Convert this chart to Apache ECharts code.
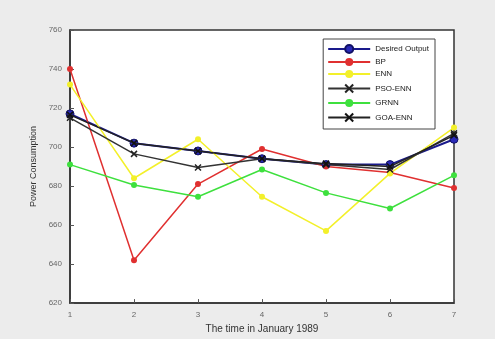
<!DOCTYPE html>
<html>
<head>
<meta charset="utf-8">
<script src="https://cdn.jsdelivr.net/npm/echarts@6/dist/echarts.min.js"></script>
<style>
  html, body { margin: 0; padding: 0; background: #ececec; }
  #main { width: 495px; height: 339px; }
</style>
</head>
<body>
<div id="main"></div>
<script>
// days in January 1989
var days = [1, 2, 3, 4, 5, 6, 7];
var desired = [717, 702, 698, 694, 691, 691, 704];
var bp = [740, 642, 681, 699, 690, 687, 679];
var enn = [732, 684, 704, 674.5, 657, 686.5, 710];
var psoEnn = [715, 696.5, 689.5, 694, 691, 688.5, 707];
var grnn = [691, 680.5, 674.5, 688.5, 676.5, 668.5, 685.5];
var goaEnn = [716.5, 702, 698, 694, 691.5, 690, 706];

function pts(vals) {
    return days.map(function (d, i) { return [d, vals[i]]; });
}

var chart = echarts.init(document.getElementById('main'));

var axisCommon = {
    axisLine: { show: true, lineStyle: { color: '#333', width: 1.5 } },
    axisTick: { show: true, inside: true, length: 4, lineStyle: { color: '#555' } },
    axisLabel: { color: '#666', fontSize: 8, fontFamily: 'Liberation Sans' },
    splitLine: { show: false }
};

chart.setOption({
    backgroundColor: '#ececec',
    animation: false,
    grid: { left: 70, right: 41, top: 30, bottom: 35, show: true, backgroundColor: '#fff', borderColor: '#333', borderWidth: 1.5 },
    legend: {
        orient: 'vertical',
        right: 60, top: 39,
        backgroundColor: '#fff',
        borderColor: '#444', borderWidth: 1,
        padding: [5, 6, 5, 4],
        itemGap: 4,
        itemWidth: 42, itemHeight: 10,
        textStyle: { fontSize: 8, color: '#222', fontFamily: 'Liberation Sans' },
        data: ['Desired Output', 'BP', 'ENN', 'PSO-ENN', 'GRNN', 'GOA-ENN']
    },
    xAxis: Object.assign({
        type: 'value', min: 1, max: 7, interval: 1,
        name: 'The time in January 1989',
        nameLocation: 'middle', nameGap: 17,
        nameTextStyle: { fontSize: 10, color: '#333', fontFamily: 'Liberation Sans' }
    }, axisCommon),
    yAxis: Object.assign({
        type: 'value', min: 620, max: 760, interval: 20,
        name: 'Power Consumption',
        nameLocation: 'middle', nameGap: 30,
        nameTextStyle: { fontSize: 9, color: '#333', fontFamily: 'Liberation Sans' }
    }, axisCommon),
    series: [
        { name: 'Desired Output', type: 'line', data: pts(desired), symbol: 'circle', symbolSize: 8,
          lineStyle: { color: '#1a1a8c', width: 2 }, itemStyle: { color: '#2a2ab8', borderColor: '#111166', borderWidth: 1 }, z: 3 },
        { name: 'BP', type: 'line', data: pts(bp), symbol: 'circle', symbolSize: 6,
          lineStyle: { color: '#e03030', width: 1.5 }, itemStyle: { color: '#e03030' } },
        { name: 'ENN', type: 'line', data: pts(enn), symbol: 'circle', symbolSize: 6,
          lineStyle: { color: '#f3f02a', width: 1.5 }, itemStyle: { color: '#f3f02a' } },
        { name: 'PSO-ENN', type: 'line', data: pts(psoEnn), symbol: 'path://M-1,-1L1,1M1,-1L-1,1', symbolSize: 6,
          lineStyle: { color: '#333', width: 1.5 }, itemStyle: { color: 'none', borderColor: '#222', borderWidth: 1.5 } },
        { name: 'GRNN', type: 'line', data: pts(grnn), symbol: 'circle', symbolSize: 6,
          lineStyle: { color: '#3ee03e', width: 1.5 }, itemStyle: { color: '#3ee03e' } },
        { name: 'GOA-ENN', type: 'line', data: pts(goaEnn), symbol: 'path://M-1,-1L1,1M1,-1L-1,1', symbolSize: 6,
          lineStyle: { color: '#222', width: 1.5 }, itemStyle: { color: 'none', borderColor: '#111', borderWidth: 1.5 }, z: 4 }
    ]
});
</script>
</body>
</html>
